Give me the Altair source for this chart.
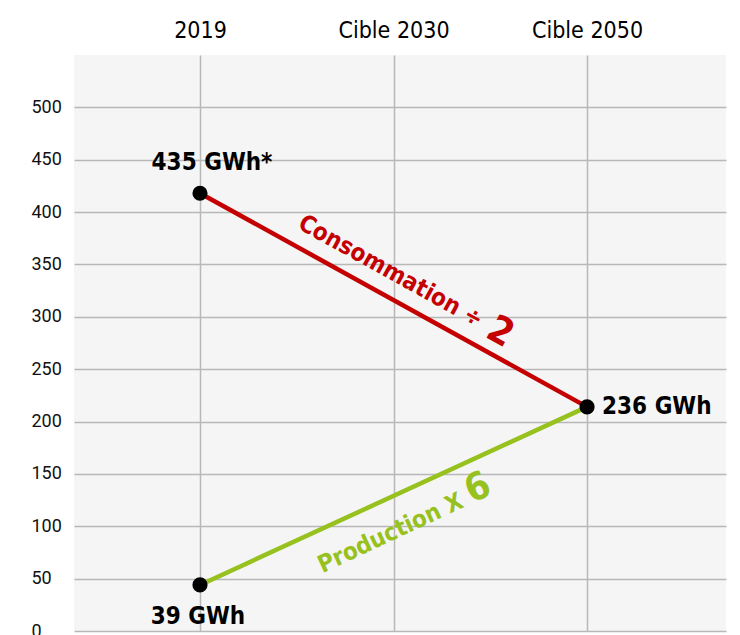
import json
import altair as alt
import pandas as pd

# ---- data ----
categories = ["2019", "Cible 2030", "Cible 2050"]
cat_index = [0, 1, 2]

conso_idx = [0, 2]
conso_val = [418, 214]          # plotted heights (GWh scale)
prod_idx = [0, 2]
prod_val = [44, 214]

point_idx = [0, 2, 0]
point_val = [418, 214, 44]
point_text = ["435 GWh*", "236 GWh", "39 GWh"]

y_ticks = [0, 50, 100, 150, 200, 250, 300, 350, 400, 450, 500]

series_names = ["Consommation", "Production"]
series_colors = ["#c40000", "#97c11f"]

# annotation anchors (data units)
ann_main = ["Consommation ÷", "Production X"]
ann_main_idx = [0.985, 0.985]
ann_main_val = [343, 93]
ann_big = ["2", "6"]
ann_big_idx = [1.55, 1.437]
ann_big_val = [285, 136]
ann_angle = [29, 335]

FONT = "DejaVu Sans Condensed, Roboto Condensed, Roboto"

lines_df = pd.DataFrame({
    "i": conso_idx + prod_idx,
    "v": conso_val + prod_val,
    "s": [series_names[0]] * len(conso_idx) + [series_names[1]] * len(prod_idx),
})
points_df = pd.DataFrame({"i": point_idx, "v": point_val, "t": point_text})

X = alt.X(
    "i:Q",
    scale=alt.Scale(domain=[-0.651, 2.718], nice=False, zero=False),
    axis=alt.Axis(
        orient="top", values=cat_index, title=None,
        labelExpr=f"{json.dumps(categories)}[datum.value]",
        labelFont=FONT, labelFontSize=23, labelFontWeight="normal", labelColor="#000000",
        labelBaseline="alphabetic", labelPadding=18,
        ticks=False, tickSize=0, domain=False, grid=True,
        gridColor="#b8b8b8", gridWidth=1.5,
    ),
)
Y = alt.Y(
    "v:Q",
    scale=alt.Scale(domain=[0, 550], nice=False, zero=True),
    axis=alt.Axis(
        values=y_ticks, title=None,
        labelFont="Roboto", labelFontSize=18, labelColor="#111111",
        labelAlign="left", labelBaseline="middle", labelPadding=43,
        ticks=False, tickSize=0, domain=False, grid=True,
        gridColor="#b8b8b8", gridWidth=1.5,
    ),
)

lines = alt.Chart(lines_df).mark_line(strokeWidth=4.5).encode(
    x=X, y=Y,
    color=alt.Color("s:N", scale=alt.Scale(domain=series_names, range=series_colors), legend=None),
    detail="s:N",
)

points = alt.Chart(points_df).mark_circle(size=230, color="black", opacity=1).encode(x=X, y=Y)

lbl_style = dict(font=FONT, fontSize=24, fontWeight="bold", color="black", baseline="middle")
lbl0 = alt.Chart(points_df.iloc[[0]]).mark_text(align="center", dx=12, dy=-30, **lbl_style).encode(x=X, y=Y, text="t:N")
lbl1 = alt.Chart(points_df.iloc[[1]]).mark_text(align="left", dx=15, dy=0, **lbl_style).encode(x=X, y=Y, text="t:N")
lbl2 = alt.Chart(points_df.iloc[[2]]).mark_text(align="center", dx=-2, dy=32, **lbl_style).encode(x=X, y=Y, text="t:N")

ann_layers = []
for k in range(2):
    df_m = pd.DataFrame({"i": [ann_main_idx[k]], "v": [ann_main_val[k]], "t": [ann_main[k]]})
    df_b = pd.DataFrame({"i": [ann_big_idx[k]], "v": [ann_big_val[k]], "t": [ann_big[k]]})
    ann_layers.append(
        alt.Chart(df_m).mark_text(font=FONT, fontSize=24, fontWeight="bold", color=series_colors[k],
                                  angle=ann_angle[k], align="center", baseline="middle")
        .encode(x=X, y=Y, text="t:N")
    )
    ann_layers.append(
        alt.Chart(df_b).mark_text(font=FONT, fontSize=38, fontWeight="bold", color=series_colors[k],
                                  angle=ann_angle[k], align="center", baseline="middle")
        .encode(x=X, y=Y, text="t:N")
    )

chart = alt.layer(lines, points, lbl0, lbl1, lbl2, *ann_layers).properties(
    width=652, height=576,
    autosize=alt.AutoSizeParams(type="none"),
    padding={"left": 66, "top": 47, "right": 6, "bottom": 4},
    background="white",
).configure_view(fill="#f5f5f5", stroke=None)

chart.save("out.html", embed_options={"renderer": "svg", "actions": False})
